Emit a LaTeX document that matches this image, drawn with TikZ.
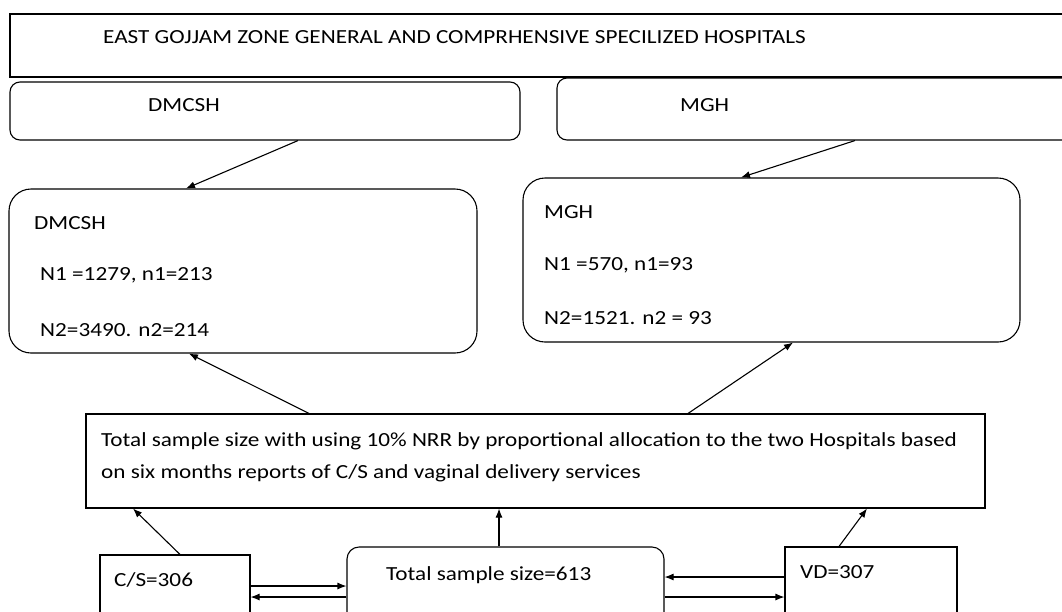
\documentclass[tikz,border=0pt]{standalone}
\usepackage{fontspec}
\setmainfont{Carlito}[FakeStretch=1.16]
\usetikzlibrary{arrows.meta}

\begin{document}
\begin{tikzpicture}[
  x=1pt, y=-1pt,
  box/.style={draw, line width=1.1pt, inner sep=0pt},
  rbox/.style={box, rounded corners=#1},
  rbox/.default=10pt,
  txt/.style={anchor=west, inner sep=0pt, font=\fontsize{20}{32}\selectfont},
  arrow/.style={-{Latex[length=9pt,width=7pt]}, line width=1.1pt}
]
  \clip (0,0) rectangle (1062,611);
  \fill[white] (0,0) rectangle (1062,611);

  % boxes
  \node[box, minimum width=1080pt, minimum height=63pt] (zone) at (550,45.5) {};
  \node[rbox, minimum width=510pt, minimum height=58pt] (dmcshhead) at (265,111) {};
  \node[rbox, minimum width=523pt, minimum height=62pt] (mghhead) at (818.5,109) {};
  \node[rbox=22pt, minimum width=468pt, minimum height=164pt] (dmcsh) at (243,271) {};
  \node[rbox=22pt, minimum width=497pt, minimum height=164pt] (mgh) at (771.5,260) {};
  \node[box, minimum width=899pt, minimum height=94pt] (total) at (535.5,461) {};
  \node[box, minimum width=150pt, minimum height=85pt] (cs) at (175,597.5) {};
  \node[rbox=12pt, minimum width=317pt, minimum height=93pt] (tss) at (505.5,593.5) {};
  \node[box, minimum width=172pt, minimum height=93pt] (vd) at (871,593.5) {};

  % texts
  \node[txt] (zonetext) at (103,37) {EAST GOJJAM ZONE GENERAL AND COMPRHENSIVE SPECILIZED HOSPITALS};
  \node[txt] (dmcshheadtext) at (148,105) {DMCSH};
  \node[txt] (mghheadtext) at (680,105) {MGH};
  \node[txt] (dmcshname) at (34,223) {DMCSH};
  \node[txt] (dmcshfirst) at (40,275) {N1 =1279, n1=213};
  \node[txt] (dmcshsecond) at (40,330) {N2=3490. n2=214};
  \node[txt] (mghname) at (544,212) {MGH};
  \node[txt] (mghfirst) at (544,265) {N1 =570, n1=93};
  \node[txt] (mghsecond) at (544,318) {N2=1521. n2 = 93};
  \node[txt, anchor=north west, align=left] (totaltext) at (101,432)
    {Total sample size with using 10\% NRR by proportional allocation to the two Hospitals based\\
     on six months reports of C/S and vaginal delivery services};
  \node[txt] (cstext) at (114,580) {C/S=306};
  \node[txt] (tsstext) at (386,575) {Total sample size=613};
  \node[txt] (vdtext) at (800,572) {VD=307};

  % connectors
  \draw[arrow] ([xshift=33pt]dmcshhead.south) -- ([xshift=-57pt]dmcsh.north);
  \draw[arrow] ([xshift=36.5pt]mghhead.south) -- ([xshift=-30.5pt]mgh.north);
  \draw[arrow] ([xshift=-226.5pt]total.north) -- ([xshift=-54pt]dmcsh.south);
  \draw[arrow] ([xshift=152.5pt]total.north) -- ([xshift=21.5pt]mgh.south);
  \draw[arrow] ([xshift=5pt]cs.north) -- ([xshift=-402.5pt]total.south);
  \draw[arrow] ([xshift=-6.5pt]tss.north) -- ([xshift=-36.5pt]total.south);
  \draw[arrow] ([xshift=-32pt]vd.north) -- ([xshift=331.5pt]total.south);
  \draw[arrow] ([yshift=11.5pt]cs.east) -- ([yshift=11.5pt]cs.east -| tss.west);
  \draw[arrow] ([yshift=-3.5pt]tss.west) -- ([yshift=-3.5pt]tss.west -| cs.east);
  \draw[arrow] ([yshift=16.5pt]vd.west) -- ([yshift=16.5pt]vd.west -| tss.east);
  \draw[arrow] ([yshift=-3.5pt]tss.east) -- ([yshift=-3.5pt]tss.east -| vd.west);
\end{tikzpicture}
\end{document}
